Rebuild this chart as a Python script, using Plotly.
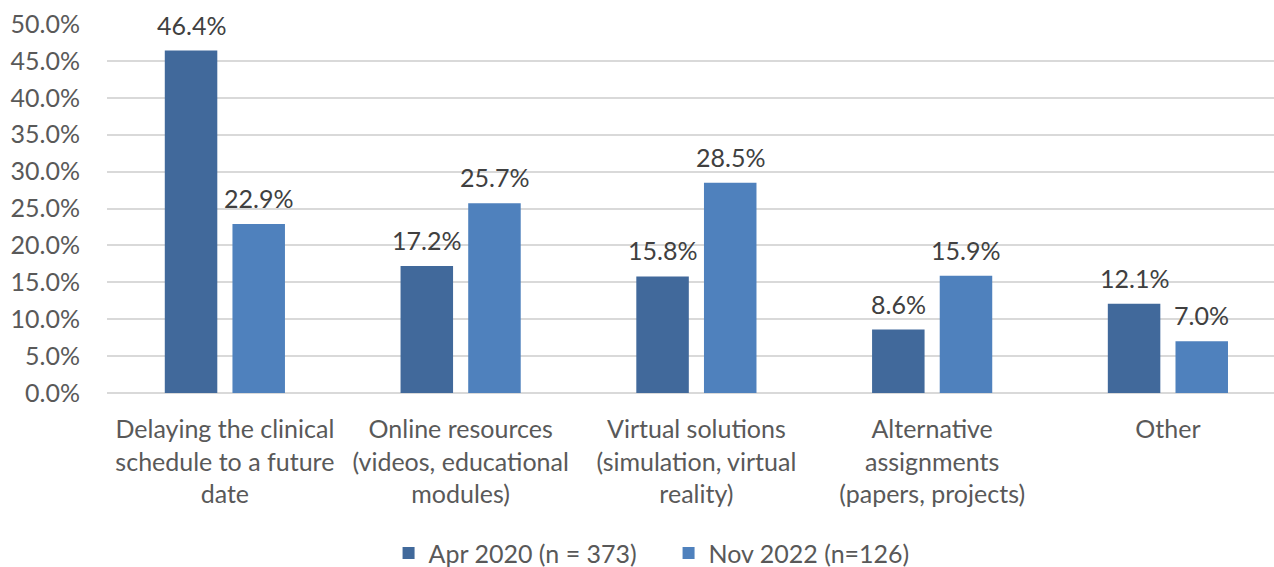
import plotly.graph_objects as go

categories = [
    "Delaying the clinical<br>schedule to a future<br>date",
    "Online resources<br>(videos, educational<br>modules)",
    "Virtual solutions<br>(simulation, virtual<br>reality)",
    "Alternative<br>assignments<br>(papers, projects)",
    "Other",
]
apr_2020 = [0.464, 0.172, 0.158, 0.086, 0.121]
nov_2022 = [0.229, 0.257, 0.285, 0.159, 0.070]
series_names = ["Apr 2020 (n = 373)", "Nov 2022 (n=126)"]
y_ticks = [0.0, 0.05, 0.10, 0.15, 0.20, 0.25, 0.30, 0.35, 0.40, 0.45, 0.50]

FONT = "Lato, Open Sans, sans-serif"
colors = ["#41699B", "#4F81BD"]

W, H = 1274, 567
M_L, M_R, M_T, M_B = 107, 0, 24, 174
X_RANGE = [-0.5, 4.45]
BARGAP = 0.426

fig = go.Figure()
for name, vals, col in zip(series_names, [apr_2020, nov_2022], colors):
    fig.add_trace(go.Bar(
        x=categories, y=vals, name=name,
        marker=dict(color=col, line=dict(width=0)),
    ))

# value labels above each bar, shifted sideways to sit over its group slot
px_per_cat = (W - M_L - M_R) / (X_RANGE[1] - X_RANGE[0])
slot = px_per_cat * (1 - BARGAP) / 2
for i, vals in enumerate([apr_2020, nov_2022]):
    shift = (i - 0.5) * slot
    for cat, v in zip(categories, vals):
        fig.add_annotation(
            x=cat, y=v, xref="x", yref="y", text=f"{v:.1%}",
            showarrow=False, xanchor="center", yanchor="bottom",
            xshift=shift, yshift=9,
            font=dict(family=FONT, size=25, color="#404040"),
        )

fig.update_layout(
    width=W, height=H,
    margin=dict(l=M_L, r=M_R, t=M_T, b=M_B, autoexpand=False),
    paper_bgcolor="white", plot_bgcolor="white",
    barmode="group", bargap=BARGAP, bargroupgap=0.224,
    font=dict(family=FONT, color="#595959"),
    showlegend=True,
    legend=dict(orientation="h", xref="container", x=0.305, xanchor="left",
                y=-0.434, yanchor="middle",
                entrywidth=235, entrywidthmode="pixels",
                font=dict(family=FONT, size=25, color="#595959"),
                traceorder="normal"),
)
fig.update_xaxes(
    range=X_RANGE, showgrid=False, showline=False, zeroline=False,
    tickfont=dict(family=FONT, size=25, color="#595959"), ticks="",
    ticklabelstandoff=19,
)
fig.update_yaxes(
    range=[0, 0.5], tickvals=y_ticks, tickformat=".1%",
    showgrid=True, gridcolor="#D9D9D9", gridwidth=1.5,
    zeroline=True, zerolinecolor="#D9D9D9", zerolinewidth=1.5,
    showline=False, ticks="", ticklabelstandoff=26,
    tickfont=dict(family=FONT, size=25, color="#595959"),
)

fig.write_html("out.html")
